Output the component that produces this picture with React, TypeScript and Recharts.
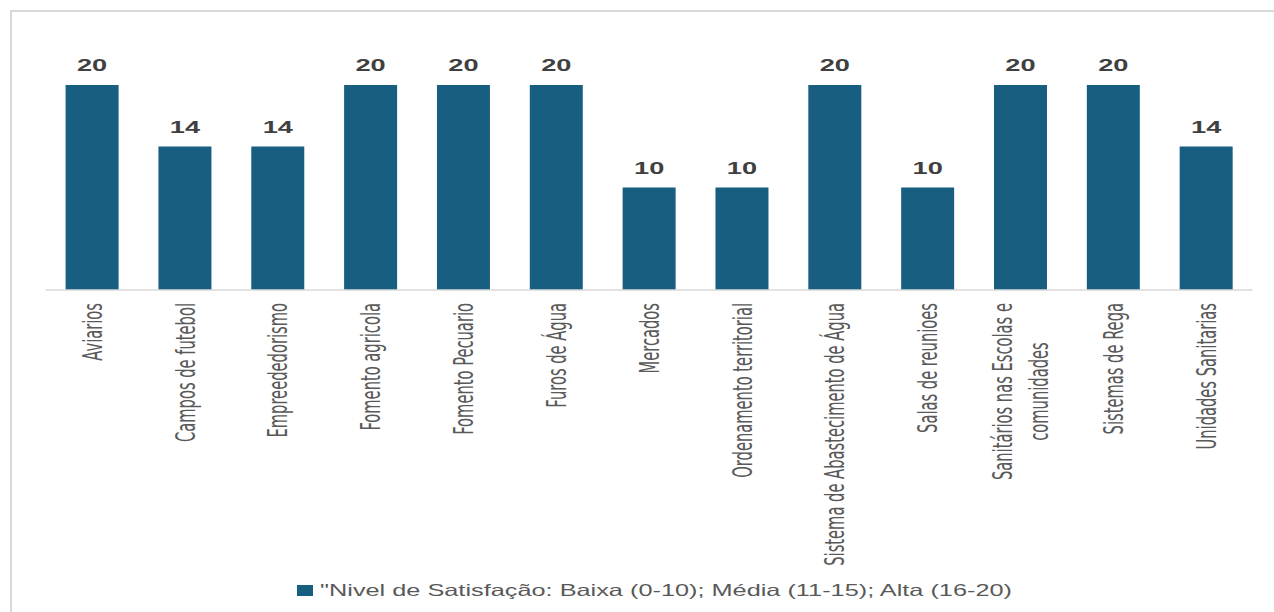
import { BarChart, Bar, XAxis, YAxis, Legend, LabelList } from "recharts";

const categories = [
  "Aviarios",
  "Campos de futebol",
  "Empreededorismo",
  "Fomento agricola",
  "Fomento Pecuario",
  "Furos de Água",
  "Mercados",
  "Ordenamento territorial",
  "Sistema de Abastecimento de Água",
  "Salas de reunioes",
  "Sanitários nas Escolas e comunidades",
  "Sistemas de Rega",
  "Unidades Sanitarias",
];
const satisfacao = [20, 14, 14, 20, 20, 20, 10, 10, 20, 10, 20, 20, 14];
const seriesName =
  '"Nivel de Satisfação: Baixa (0-10); Média (11-15); Alta (16-20)';

const data = categories.map((name, i) => ({ name, value: satisfacao[i] }));

const BAR_COLOR = "#175E80";
const STRETCH = 1.6; // the source image is stretched horizontally
const TICK_FONT = '"Liberation Sans Narrow", "DejaVu Sans Condensed", sans-serif';
const TICK_SIZE = 19;
const READ_SCALE = 0.86;
const CROSS_SCALE = 1.42;

let ctx: CanvasRenderingContext2D | null = null;
function measure(s: string) {
  if (!ctx) ctx = document.createElement("canvas").getContext("2d");
  if (!ctx) return s.length * 8;
  ctx.font = `${TICK_SIZE}px ${TICK_FONT}`;
  return ctx.measureText(s).width;
}

function wrap(s: string, max: number) {
  const words = s.split(" ");
  const lines: string[] = [];
  let cur = "";
  for (const w of words) {
    const next = cur ? cur + " " + w : w;
    if (next.length > max && cur) {
      lines.push(cur);
      cur = w;
    } else cur = next;
  }
  if (cur) lines.push(cur);
  return lines;
}

function CategoryTick({ x, y, payload }: any) {
  const lines = wrap(String(payload.value), 33);
  const longest = Math.max(...lines.map(measure));
  const n = lines.length;
  return (
    <g
      transform={`translate(${x},${y + 5}) rotate(-90) scale(${READ_SCALE},${CROSS_SCALE})`}
    >
      {lines.map((ln, i) => (
        <text
          key={i}
          x={-longest / 2}
          y={(i - (n - 1) / 2) * 25 + TICK_SIZE * 0.36}
          textAnchor="middle"
          fontFamily={TICK_FONT}
          fontSize={TICK_SIZE}
          fill="#595959"
        >
          {ln}
        </text>
      ))}
    </g>
  );
}

function ValueLabel({ x, y, width, value }: any) {
  const cx = Number(x) + Number(width) / 2;
  return (
    <text
      transform={`translate(${cx},${Number(y) - 14}) scale(${STRETCH},1)`}
      textAnchor="middle"
      fontFamily='"Liberation Sans", Arial, sans-serif'
      fontWeight={700}
      fontSize={17}
      fill="#404040"
    >
      {value}
    </text>
  );
}

function LegendContent({ payload }: any) {
  const item = payload?.[0];
  if (!item) return null;
  return (
    <svg width={740} height={26} style={{ display: "block" }}>
      <rect x={7} y={7} width={16} height={11} fill={item.color} />
      <text
        x={30}
        y={18}
        textLength={692}
        lengthAdjust="spacingAndGlyphs"
        fontFamily='"Liberation Sans", Arial, sans-serif'
        fontSize={16.5}
        fill="#595959"
      >
        {item.value}
      </text>
    </svg>
  );
}

export default function App() {
  return (
    <div
      style={{
        position: "absolute",
        left: 0,
        top: 0,
        width: 1274,
        height: 612,
        overflow: "hidden",
        background: "#fff",
      }}
    >
      <div
        style={{
          position: "absolute",
          left: 10,
          top: 10,
          width: 1320,
          height: 700,
          borderTop: "2px solid #d9d9d9",
          borderLeft: "2px solid #d9d9d9",
        }}
      />
      <div style={{ position: "absolute", left: 0, top: 0 }}>
        <BarChart
          width={1274}
          height={612}
          data={data}
          margin={{ top: 85, right: 21.5, left: 45.6, bottom: 42 }}
        >
          <XAxis
            dataKey="name"
            interval={0}
            height={280}
            tickLine={false}
            axisLine={{ stroke: "#d9d9d9", strokeWidth: 1.5 }}
            tick={<CategoryTick />}
          />
          <YAxis hide domain={[0, 20]} />
          <Legend
            layout="horizontal"
            verticalAlign="middle"
            align="center"
            wrapperStyle={{ top: 578, left: 290, width: 740, height: 26 }}
            content={<LegendContent />}
          />
          <Bar
            dataKey="value"
            name={seriesName}
            fill={BAR_COLOR}
            barSize={53}
            isAnimationActive={false}
          >
            <LabelList dataKey="value" content={<ValueLabel />} />
          </Bar>
        </BarChart>
      </div>
    </div>
  );
}
